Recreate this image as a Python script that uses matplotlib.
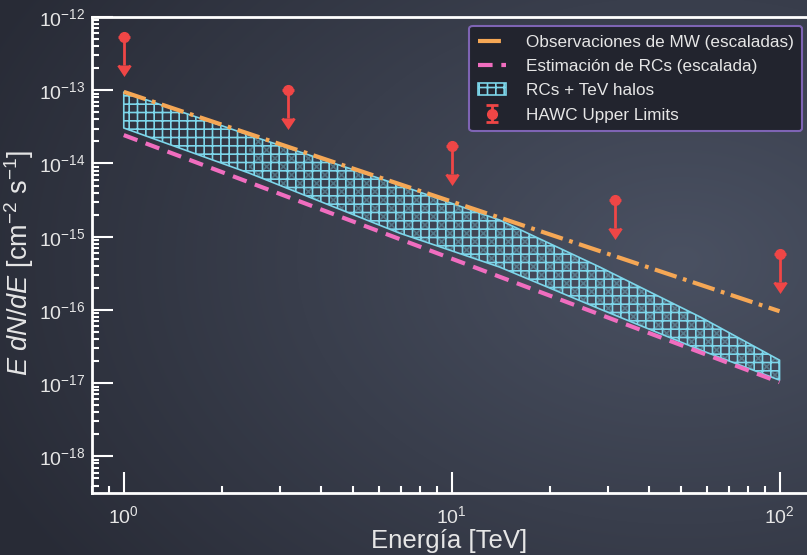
import numpy as np
import matplotlib
matplotlib.use('Agg')
import matplotlib.pyplot as plt

plt.rcParams['font.family'] = ['Liberation Sans', 'DejaVu Sans']
plt.rcParams['mathtext.fontset'] = 'custom'
plt.rcParams['mathtext.rm'] = 'Liberation Sans'
plt.rcParams['mathtext.it'] = 'Liberation Sans:italic'
plt.rcParams['mathtext.bf'] = 'Liberation Sans:bold'
plt.rcParams['hatch.linewidth'] = 1.2

# --- data ---
energyLines = [1.0, 100.0]
fluxMW = [9.5e-14, 9.6e-17]
fluxRCs = [2.44e-14, 1.03e-17]

energyBand = [1.0, 2.41, 6.93, 14.0, 28.3, 57.4, 100.0]
bandUpper = [9.44e-14, 2.44e-14, 5.07e-15, 1.69e-15, 3.85e-16, 7.98e-17, 2.06e-17]
bandLower = [3.05e-14, 7.40e-15, 1.12e-15, 3.85e-16, 1.03e-16, 2.83e-17, 1.10e-17]

energyHAWC = [1.0, 3.16, 10.0, 31.6, 100.0]
fluxHAWC = [5.3e-13, 1.0e-13, 1.73e-14, 3.16e-15, 5.8e-16]

textColor = '#e6e6e6'
orange = '#f5a755'
pink = '#f06dbf'
cyan = '#7dd6ea'
red = '#ef4646'

fig = plt.figure(figsize=(8.07, 5.55), dpi=100)

# background gradient
bgAx = fig.add_axes([0, 0, 1, 1], zorder=-10)
yy, xx = np.mgrid[0:555, 0:807]
dist = np.sqrt(((xx - 680) / 807.0) ** 2 + ((yy - 260) / 555.0) ** 2)
t = np.clip(dist / 0.95, 0, 1)
light = np.array([74, 81, 98]) / 255.0
dark = np.array([40, 43, 54]) / 255.0
img = light[None, None, :] * (1 - t[..., None]) + dark[None, None, :] * t[..., None]
bgAx.imshow(img, aspect='auto', extent=[0, 1, 0, 1])
bgAx.axis('off')

ax = fig.add_axes([92 / 807, 1 - 493 / 555, (805.5 - 92) / 807, (493 - 17) / 555])
ax.set_facecolor('none')
ax.set_xscale('log')
ax.set_yscale('log')

ax.plot(energyLines, fluxMW, color=orange, lw=3, dashes=(5.5, 1.6, 0.9, 1.6),
        label='Observaciones de MW (escaladas)', zorder=4)
ax.plot(energyLines, fluxRCs, color=pink, lw=3, dashes=(3.5, 2.1),
        label='Estimación de RCs (escalada)', zorder=4)

ax.fill_between(energyBand, bandLower, bandUpper, facecolor='none',
                edgecolor=cyan, hatch='++', lw=1.2, label='RCs + TeV halos', zorder=3)
ax.fill_between(energyBand[1:], bandLower[1:], bandUpper[1:], facecolor='none',
                edgecolor=cyan, hatch='xx', lw=0, alpha=0.35, zorder=2)

hawcErr = [0.58 * f for f in fluxHAWC]
ax.errorbar(energyHAWC, fluxHAWC, yerr=hawcErr, uplims=True, fmt='o', color=red,
            ms=7, elinewidth=2, capsize=4.5, capthick=2,
            label='HAWC Upper Limits', zorder=5)

ax.set_xlim(0.8, 120)
ax.set_ylim(10 ** -18.5, 1e-12)

ax.spines['right'].set_visible(False)
for side in ['left', 'bottom', 'top']:
    ax.spines[side].set_color('white')
    ax.spines[side].set_linewidth(2)

ax.tick_params(which='both', direction='in', colors='white', labelcolor=textColor,
               top=False, right=False)
ax.tick_params(which='major', length=15, width=1.5, labelsize=14)
ax.tick_params(axis='y', which='major', pad=5)
ax.tick_params(axis='x', which='major', pad=9)
ax.tick_params(which='minor', length=5, width=1.5)
ax.yaxis.set_major_locator(matplotlib.ticker.LogLocator(base=10, numticks=20))
ax.yaxis.set_minor_locator(matplotlib.ticker.LogLocator(base=10, subs=np.arange(2, 10), numticks=20))
ax.yaxis.set_minor_formatter(matplotlib.ticker.NullFormatter())

ax.set_xlabel('Energía [TeV]', color=textColor, fontsize=18.5)
ax.xaxis.set_label_coords(0.5, -0.075)
ax.set_ylabel(r'$E\ dN/dE$ [cm$^{-2}$ s$^{-1}$]', color=textColor, fontsize=19.5)
ax.yaxis.set_label_coords(-0.078, 0.483)

leg = ax.legend(loc='upper right', bbox_to_anchor=(0.995, 0.981), borderaxespad=0,
                fontsize=12.3, facecolor='#22242e', edgecolor='#7e64b4', framealpha=1,
                labelcolor=textColor, fancybox=True, handlelength=1.65,
                handletextpad=1.15, borderpad=0.5, labelspacing=0.55)
leg.get_frame().set_linewidth(1.5)

fig.savefig('out.png', dpi=100)
